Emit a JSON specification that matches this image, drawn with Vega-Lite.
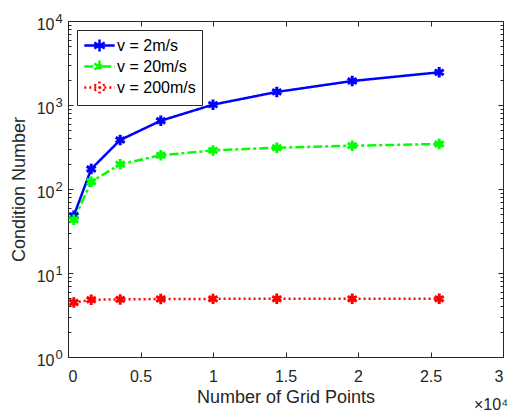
{
  "$schema": "https://vega.github.io/schema/vega-lite/v6.json",
  "width": 435,
  "height": 336,
  "autosize": "none",
  "padding": {"left": 68, "top": 21, "right": 10, "bottom": 57},
  "config": {
    "font": "Liberation Sans",
    "view": {"stroke": "#262626", "strokeWidth": 1},
    "axis": {"grid": false, "domainColor": "#262626", "tickColor": "#262626", "labelColor": "#262626", "titleColor": "#262626", "labelFontSize": 16, "titleFontSize": 18, "titleFontWeight": "normal", "labelFont": "Liberation Sans", "titleFont": "Liberation Sans"}
  },
  "title": {"text": "×10⁴", "orient": "bottom", "anchor": "end", "frame": "group", "fontSize": 16, "fontWeight": "normal", "font": "Liberation Sans", "color": "#262626", "offset": -9, "dx": 5},
  "data": {"values": [
    {"n": 400, "cond": 48, "series": "v = 2m/s"},
    {"n": 1600, "cond": 173, "series": "v = 2m/s"},
    {"n": 3600, "cond": 383, "series": "v = 2m/s"},
    {"n": 6400, "cond": 650, "series": "v = 2m/s"},
    {"n": 10000, "cond": 1010, "series": "v = 2m/s"},
    {"n": 14400, "cond": 1430, "series": "v = 2m/s"},
    {"n": 19600, "cond": 1930, "series": "v = 2m/s"},
    {"n": 25600, "cond": 2450, "series": "v = 2m/s"},
    {"n": 400, "cond": 43, "series": "v = 20m/s"},
    {"n": 1600, "cond": 122, "series": "v = 20m/s"},
    {"n": 3600, "cond": 197, "series": "v = 20m/s"},
    {"n": 6400, "cond": 252, "series": "v = 20m/s"},
    {"n": 10000, "cond": 288, "series": "v = 20m/s"},
    {"n": 14400, "cond": 310, "series": "v = 20m/s"},
    {"n": 19600, "cond": 328, "series": "v = 20m/s"},
    {"n": 25600, "cond": 343, "series": "v = 20m/s"},
    {"n": 400, "cond": 4.45, "series": "v = 200m/s"},
    {"n": 1600, "cond": 4.8, "series": "v = 200m/s"},
    {"n": 3600, "cond": 4.85, "series": "v = 200m/s"},
    {"n": 6400, "cond": 4.9, "series": "v = 200m/s"},
    {"n": 10000, "cond": 4.92, "series": "v = 200m/s"},
    {"n": 14400, "cond": 4.93, "series": "v = 200m/s"},
    {"n": 19600, "cond": 4.93, "series": "v = 200m/s"},
    {"n": 25600, "cond": 4.93, "series": "v = 200m/s"}
  ]},
  "encoding": {
    "x": {"field": "n", "type": "quantitative", "scale": {"domain": [0, 30000], "nice": false, "zero": false}, "axis": null},
    "y": {"field": "cond", "type": "quantitative", "scale": {"type": "log", "domain": [1, 10000], "nice": false}, "axis": null},
    "color": {"field": "series", "type": "nominal", "sort": ["v = 2m/s", "v = 20m/s", "v = 200m/s"], "scale": {"domain": ["v = 2m/s", "v = 20m/s", "v = 200m/s"], "range": ["#0000FF", "#00FF00", "#FF0000"]}}
  },
  "layer": [
    {
      "mark": {"type": "line", "strokeWidth": 2.5},
      "encoding": {
        "x": {"field": "n", "type": "quantitative", "scale": {"domain": [0, 30000], "nice": false, "zero": false}, "axis": {"orient": "bottom", "title": "Number of Grid Points", "values": [0, 5000, 10000, 15000, 20000, 25000, 30000], "labelExpr": "datum.value/10000 + ''", "tickSize": -5, "labelPadding": 16, "domain": false, "titlePadding": 4}},
        "y": {"field": "cond", "type": "quantitative", "scale": {"type": "log", "domain": [1, 10000], "nice": false}, "axis": {"orient": "left", "title": "Condition Number", "values": [1, 2, 3, 4, 5, 6, 7, 8, 9, 10, 20, 30, 40, 50, 60, 70, 80, 90, 100, 200, 300, 400, 500, 600, 700, 800, 900, 1000, 2000, 3000, 4000, 5000, 6000, 7000, 8000, 9000, 10000], "labelExpr": "abs(log(datum.value)/LN10 - round(log(datum.value)/LN10)) < 0.001 ? '10' : ''", "tickSize": {"condition": {"test": "abs(log(datum.value)/LN10 - round(log(datum.value)/LN10)) < 0.001", "value": -5}, "value": -3}, "labelPadding": 19, "labelOffset": 3, "domain": false, "titlePadding": 8}},
        "strokeDash": {"field": "series", "type": "nominal", "sort": ["v = 2m/s", "v = 20m/s", "v = 200m/s"], "scale": {"domain": ["v = 2m/s", "v = 20m/s", "v = 200m/s"], "range": [[1, 0], [9, 3, 3, 3], [2, 3]]}, "legend": null}
      }
    },
    {
      "mark": {"type": "point", "shape": "M0,-1L0,1M-0.866,-0.5L0.866,0.5M-0.866,0.5L0.866,-0.5", "filled": false, "size": 110, "strokeWidth": 3, "opacity": 1},
      "encoding": {
        "color": {"field": "series", "type": "nominal", "sort": ["v = 2m/s", "v = 20m/s", "v = 200m/s"], "scale": {"domain": ["v = 2m/s", "v = 20m/s", "v = 200m/s"], "range": ["#0000FF", "#00FF00", "#FF0000"]}, "legend": {"title": null, "orient": "top-left", "offset": 9, "symbolType": "M-1.9,0L1.9,0M0,-0.75L0,0.75M-0.65,-0.375L0.65,0.375M-0.65,0.375L0.65,-0.375", "symbolSize": 256, "symbolOffset": 7, "symbolStrokeWidth": 2.5, "symbolFillColor": "transparent", "labelFontSize": 16, "labelColor": "#000000", "labelOffset": 8, "rowPadding": -2, "padding": 6, "fillColor": "white", "strokeColor": "#262626", "labelFont": "Liberation Sans"}}
      }
    },
    {
      "mark": {"type": "point", "opacity": 0},
      "encoding": {
        "x": {"field": "n", "type": "quantitative", "scale": {"domain": [0, 30000], "nice": false, "zero": false}, "axis": {"orient": "top", "title": null, "values": [0, 5000, 10000, 15000, 20000, 25000, 30000], "labels": false, "tickSize": -5, "domain": false}},
        "y": {"field": "cond", "type": "quantitative", "scale": {"type": "log", "domain": [1, 10000], "nice": false}, "axis": {"orient": "right", "title": null, "values": [1, 2, 3, 4, 5, 6, 7, 8, 9, 10, 20, 30, 40, 50, 60, 70, 80, 90, 100, 200, 300, 400, 500, 600, 700, 800, 900, 1000, 2000, 3000, 4000, 5000, 6000, 7000, 8000, 9000, 10000], "labels": false, "tickSize": {"condition": {"test": "abs(log(datum.value)/LN10 - round(log(datum.value)/LN10)) < 0.001", "value": -5}, "value": -3}, "domain": false}},
        "color": {"value": "transparent"}
      }
    },
    {
      "mark": {"type": "point", "opacity": 0},
      "encoding": {
        "y": {"field": "cond", "type": "quantitative", "scale": {"type": "log", "domain": [1, 10000], "nice": false}, "axis": {"orient": "left", "title": null, "values": [1, 10, 100, 1000, 10000], "labelExpr": "round(log(datum.value)/LN10) + ''", "labelFontSize": 13, "labelAlign": "left", "labelPadding": 13, "labelOffset": -3, "ticks": false, "domain": false, "offset": 0}},
        "color": {"value": "transparent"}
      }
    }
  ],
  "resolve": {"axis": {"x": "independent", "y": "independent"}}
}
